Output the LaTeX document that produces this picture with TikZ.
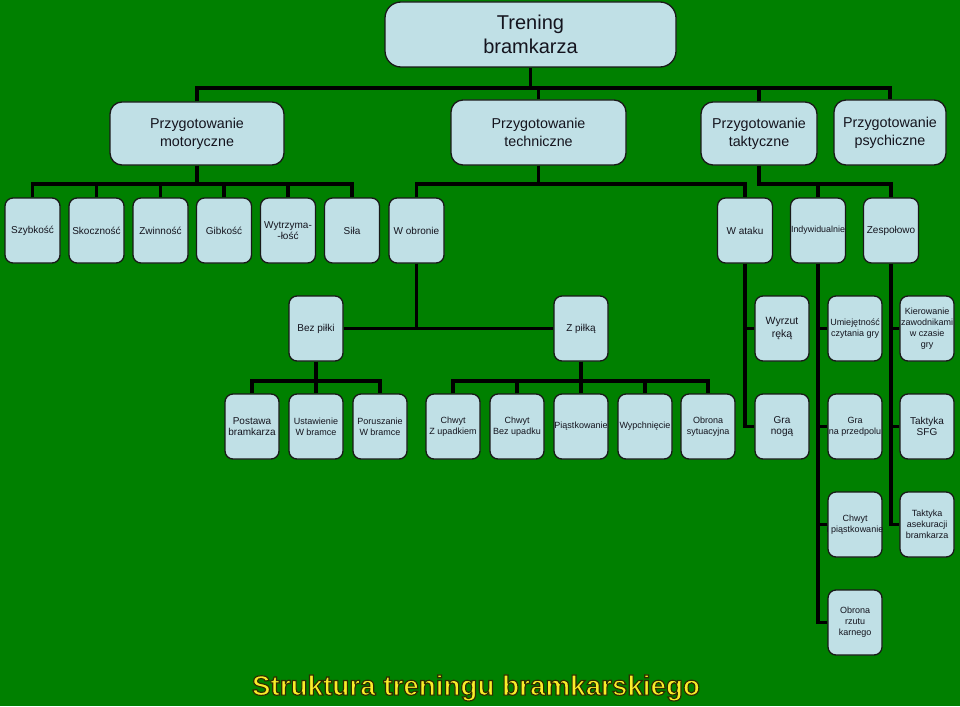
\documentclass[tikz,border=0pt]{standalone}
\usepackage{fontspec}
\setmainfont{Liberation Sans}
\newfontfamily\ttlfont[FakeBold=4.2]{Liberation Sans Bold}
\definecolor{bg}{RGB}{0,128,0}
\definecolor{boxfill}{RGB}{192,224,230}
\definecolor{boxline}{RGB}{25,25,25}
\definecolor{txt}{RGB}{20,20,30}
\definecolor{ttlyellow}{RGB}{250,236,40}
\newcommand{\fsz}[2]{\fontsize{#1}{#2}\selectfont}
\begin{document}
\begin{tikzpicture}[x=1pt,y=-1pt,
 box/.style={draw=boxline, fill=boxfill, line width=1.3pt, rounded corners=8pt, minimum width=54pt, minimum height=65pt, inner sep=0pt},
 bigbox/.style={box, rounded corners=12pt},
 lab/.style={align=center, text=txt, inner sep=0pt, font=\fsz{10}{11.7}},
 sm/.style={lab, font=\fsz{9}{11}},
 big/.style={lab, font=\fsz{14.3}{18}},
 conn/.style={line width=3.6pt, black},
 ttl/.style={inner sep=0pt, text=ttlyellow, font={\ttlfont\fsz{27.8}{30}}},
]
\fill[bg] (0,0) rectangle (960,706);
\useasboundingbox (0,0) rectangle (960,706);

% level 0
\node[bigbox, rounded corners=16pt, minimum width=291pt, minimum height=65pt, label={[lab,font=\fsz{20}{24}]center:{Trening\\bramkarza}}] (root) at (530.5,34.5) {};
% level 1
\node[bigbox, minimum width=174pt, minimum height=63pt, label={[big]center:{Przygotowanie\\motoryczne}}] (mot) at (197,133.5) {};
\node[bigbox, minimum width=175pt, minimum height=65pt, label={[big]center:{Przygotowanie\\techniczne}}] (tech) at (538.5,132.5) {};
\node[bigbox, minimum width=116pt, minimum height=63pt, label={[big]center:{Przygotowanie\\taktyczne}}] (takt) at (759,133.5) {};
\node[bigbox, minimum width=112pt, minimum height=65pt, label={[big]center:{Przygotowanie\\psychiczne}}] (psych) at (890,132.5) {};
% level 2
\node[box, minimum width=55pt, label={[lab]center:{Szybkość}}] (szyb) at (32.5,230.5) {};
\node[box, minimum width=55pt, label={[lab]center:{Skoczność}}] (skocz) at (96.5,230.5) {};
\node[box, minimum width=55pt, label={[lab]center:{Zwinność}}] (zwin) at (160.5,230.5) {};
\node[box, minimum width=55pt, label={[lab]center:{Gibkość}}] (gib) at (224,230.5) {};
\node[box, minimum width=55pt, label={[lab]center:{Wytrzyma-\\-łość}}] (wytrz) at (288,230.5) {};
\node[box, minimum width=55pt, label={[lab]center:{Siła}}] (sila) at (352,230.5) {};
\node[box, minimum width=55pt, label={[lab]center:{W obronie}}] (wobr) at (416.5,230.5) {};
\node[box, minimum width=55pt, label={[lab]center:{W ataku}}] (watak) at (745,230.5) {};
\node[box, minimum width=55pt, label={[lab,font=\fsz{8.9}{11}]center:{Indywidualnie}}] (indyw) at (818,230.5) {};
\node[box, minimum width=55pt, label={[lab]center:{Zespołowo}}] (zesp) at (891,230.5) {};
% level 3
\node[box, label={[lab]center:{Bez piłki}}] (bez) at (316,328.5) {};
\node[box, label={[lab]center:{Z piłką}}] (zpilka) at (581,328.5) {};
\node[box, label={[lab,font=\fsz{10.5}{12.5}]center:{Wyrzut\\ręką}}] (wyrzut) at (782,328.5) {};
\node[box, label={[sm]center:{Umiejętność\\czytania gry}}] (umiej) at (855,328.5) {};
\node[box, label={[sm]center:{Kierowanie\\zawodnikami\\w czasie\\gry}}] (kier) at (927,328.5) {};
% level 4
\node[box, label={[lab]center:{Postawa\\bramkarza}}] (postawa) at (252,426.5) {};
\node[box, label={[sm]center:{Ustawienie\\W bramce}}] (ustaw) at (316,426.5) {};
\node[box, label={[sm]center:{Poruszanie\\W bramce}}] (porusz) at (380,426.5) {};
\node[box, label={[sm]center:{Chwyt\\Z upadkiem}}] (chwytz) at (453,426.5) {};
\node[box, label={[sm]center:{Chwyt\\Bez upadku}}] (chwytb) at (517,426.5) {};
\node[box, label={[sm]center:{Piąstkowanie}}] (piast) at (581,426.5) {};
\node[box, label={[sm]center:{Wypchnięcie}}] (wypch) at (645,426.5) {};
\node[box, label={[sm]center:{Obrona\\sytuacyjna}}] (obrona) at (708,426.5) {};
\node[box, label={[lab]center:{Gra\\nogą}}] (granoga) at (782,426.5) {};
\node[box, label={[sm]center:{Gra\\na przedpolu}}] (grap) at (855,426.5) {};
\node[box, label={[lab]center:{Taktyka\\SFG}}] (sfg) at (927,426.5) {};
% level 5-6
\node[box, label={[sm]center:{Chwyt\\i piąstkowanie}}] (chwytp) at (855,524.5) {};
\node[box, label={[sm]center:{Taktyka\\asekuracji\\bramkarza}}] (asek) at (927,524.5) {};
\node[box, label={[sm]center:{Obrona\\rzutu\\karnego}}] (karny) at (855,622.5) {};

% connectors
\coordinate (b1) at (0,88);
\coordinate (b2) at (0,184);
\coordinate (b4) at (0,381);
\draw[conn] (root.south) -- (root.south |- b1);
\draw[conn] (mot.north) -- (mot.north |- b1) -- (psych.north |- b1) -- (psych.north);
\draw[conn] (tech.north) -- (tech.north |- b1);
\draw[conn] (takt.north) -- (takt.north |- b1);

\draw[conn] (mot.south) -- (mot.south |- b2);
\draw[conn] (szyb.north) -- (szyb.north |- b2) -- (sila.north |- b2) -- (sila.north);
\foreach \n in {skocz,zwin,gib,wytrz} \draw[conn] (\n.north) -- (\n.north |- b2);
\draw[conn] (tech.south) -- (tech.south |- b2);
\draw[conn] (wobr.north) -- (wobr.north |- b2) -- (watak.north |- b2) -- (watak.north);
\draw[conn] (takt.south) -- (takt.south |- b2) -- (zesp.north |- b2) -- (zesp.north);
\draw[conn] (indyw.north) -- (indyw.north |- b2);

\draw[conn] (wobr.south) -- (wobr.south |- bez.east);
\draw[conn] (bez.east) -- (zpilka.west);
\draw[conn] (bez.south) -- (ustaw.north);
\draw[conn] (postawa.north) -- (postawa.north |- b4) -- (porusz.north |- b4) -- (porusz.north);
\draw[conn] (zpilka.south) -- (piast.north);
\draw[conn] (chwytz.north) -- (chwytz.north |- b4) -- (obrona.north |- b4) -- (obrona.north);
\foreach \n in {chwytb,wypch} \draw[conn] (\n.north) -- (\n.north |- b4);

\draw[conn] (watak.south) |- (granoga.west);
\draw[conn] (watak.south |- wyrzut.west) -- (wyrzut.west);
\draw[conn] (indyw.south) |- (karny.west);
\foreach \n in {umiej,grap,chwytp} \draw[conn] (indyw.south |- \n.west) -- (\n.west);
\draw[conn] (zesp.south) |- (asek.west);
\foreach \n in {kier,sfg} \draw[conn] (zesp.south |- \n.west) -- (\n.west);

% title (yellow fill, dark stroke)
\node[ttl] (title) at (476,688) {\special{pdf:code 0.18 0.18 0 RG}Struktura treningu bramkarskiego};
\end{tikzpicture}
\end{document}
